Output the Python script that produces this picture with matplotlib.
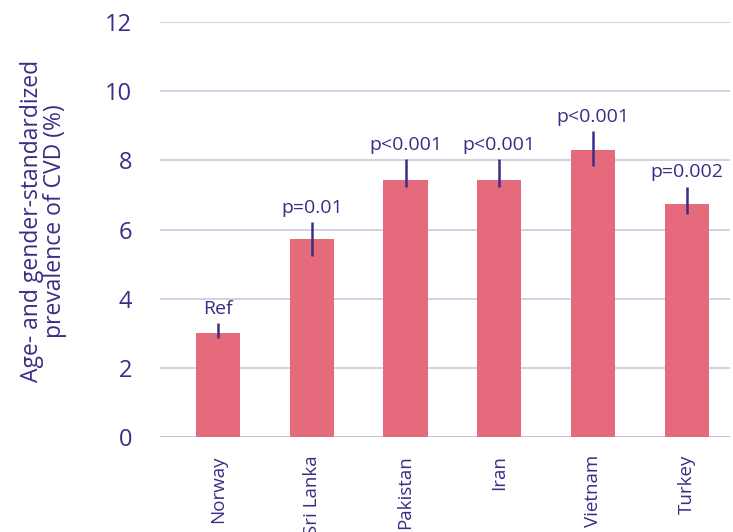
import matplotlib
matplotlib.use("Agg")
import matplotlib.pyplot as plt
import numpy as np

countries = ["Norway", "Sri Lanka", "Pakistan", "Iran", "Vietnam", "Turkey"]
prevalence = [3.0, 5.72, 7.43, 7.43, 8.29, 6.73]
ci_low = [2.86, 5.23, 7.23, 7.23, 7.83, 6.45]
ci_high = [3.29, 6.21, 8.03, 8.03, 8.84, 7.23]
p_labels = ["Ref", "p=0.01", "p<0.001", "p<0.001", "p<0.001", "p=0.002"]

text_color = "#3a2d86"
bar_color = "#e46a7c"
grid_color = "#cbc7e4"

plt.rcParams["font.family"] = ["Open Sans", "DejaVu Sans"]

fig = plt.figure(figsize=(7.33, 5.32), dpi=100)
ax = fig.add_axes([0.218, 0.1786, 0.778, 0.780])

x = np.arange(len(countries))
prev = np.array(prevalence)
yerr = np.vstack([prev - np.array(ci_low), np.array(ci_high) - prev])

ax.bar(x, prev, width=0.47, color=bar_color, zorder=2)
ax.errorbar(x, prev, yerr=yerr, fmt="none", ecolor=text_color,
            elinewidth=1.8, capsize=0, zorder=3)

for xi, hi, lab in zip(x, ci_high, p_labels):
    ax.annotate(lab, (xi, hi), xytext=(0, 4), textcoords="offset points",
                ha="center", va="bottom", fontsize=14, color=text_color)

ax.set_xlim(-0.62, 5.46)
ax.set_ylim(0, 12)
ax.set_yticks(range(0, 13, 2))
ax.yaxis.grid(True, color=grid_color, linewidth=1.2, zorder=0)
ax.axhline(0, color="#aaa4d4", linewidth=1.4, zorder=1)
for s in ax.spines.values():
    s.set_visible(False)

ax.set_xticks(x)
ax.set_xticklabels(countries, rotation=90, va="top")
ax.tick_params(axis="x", length=0, pad=13, labelsize=13.5, labelcolor=text_color)
ax.tick_params(axis="y", length=0, pad=20, labelsize=17, labelcolor=text_color)

fig.text(0.059, 0.585, "Age- and gender-standardized\nprevalence of CVD (%)",
         rotation=90, ha="center", va="center", fontsize=16.5,
         color=text_color, linespacing=0.95)

fig.savefig("out.png", dpi=100)
